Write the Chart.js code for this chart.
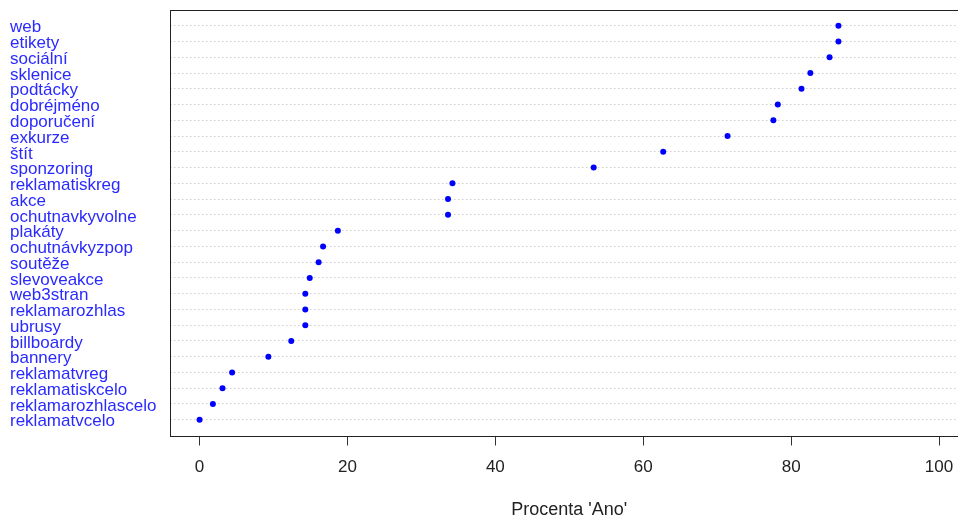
<!DOCTYPE html>
<html>
<head>
<meta charset="utf-8">
<script src="https://cdn.jsdelivr.net/npm/chart.js@4"></script>
<style>
  html, body { margin: 0; padding: 0; overflow: hidden; background: #fff; }
  #wrap { width: 980px; height: 519px; }
</style>
</head>
<body>
<div id="wrap"><canvas id="c" width="980" height="519"></canvas></div>
<script>
const categories = ["web","etikety","sociální","sklenice","podtácky","dobréjméno","doporučení","exkurze","štít","sponzoring","reklamatiskreg","akce","ochutnavkyvolne","plakáty","ochutnávkyzpop","soutěže","slevoveakce","web3stran","reklamarozhlas","ubrusy","billboardy","bannery","reklamatvreg","reklamatiskcelo","reklamarozhlascelo","reklamatvcelo"];
const percentYes = [86.4,86.4,85.2,82.6,81.4,78.2,77.6,71.4,62.7,53.3,34.2,33.6,33.6,18.7,16.7,16.1,14.9,14.3,14.3,14.3,12.4,9.3,4.4,3.1,1.8,0];
const xTicks = [0,20,40,60,80,100];
const xTitle = "Procenta 'Ano'";

const points = categories.map((c, i) => ({ x: percentYes[i], y: i + 1 }));
const FONT = "'Liberation Sans', Arial, sans-serif";

const boxPlugin = {
  id: 'box',
  afterDraw(chart) {
    const a = chart.chartArea, ctx = chart.ctx;
    ctx.save();
    ctx.strokeStyle = '#222';
    ctx.lineWidth = 1;
    ctx.strokeRect(Math.round(a.left) + 0.5, Math.round(a.top) + 0.5,
                   Math.round(a.right - a.left), Math.round(a.bottom - a.top));
    ctx.restore();
  }
};

new Chart(document.getElementById('c'), {
  type: 'scatter',
  data: {
    datasets: [{
      data: points,
      backgroundColor: '#0000ff',
      borderColor: '#0000ff',
      pointRadius: 3,
      pointBorderWidth: 0
    }]
  },
  options: {
    responsive: false,
    animation: false,
    events: [],
    layout: { padding: { left: 10, top: 10, right: 11.4, bottom: 0 } },
    plugins: { legend: { display: false }, tooltip: { enabled: false } },
    scales: {
      x: {
        type: 'linear',
        min: -4, max: 104,
        afterBuildTicks(s) { s.ticks = xTicks.map(v => ({ value: v })); },
        afterFit(s) { s.height = 83.5; },
        grid: { drawOnChartArea: false, drawTicks: true, tickLength: 10, tickColor: '#333', tickWidth: 1 },
        border: { display: false },
        ticks: { padding: 12, color: '#222', autoSkip: false, font: { family: FONT, size: 17 }, maxRotation: 0 },
        title: { display: true, text: xTitle, color: '#222', font: { family: FONT, size: 18, lineHeight: 1.0 }, padding: { top: 0, bottom: 0 } }
      },
      y: {
        type: 'linear',
        reverse: true,
        min: 0, max: 27,
        afterBuildTicks(s) { s.ticks = categories.map((c, i) => ({ value: i + 1 })); },
        afterFit(s) { s.width = 160; },
        grid: { drawTicks: false, color: '#cfcfcf', lineWidth: 1 },
        border: { display: false, dash: [1.5, 2.5] },
        ticks: {
          crossAlign: 'far',
          autoSkip: false,
          padding: 0,
          labelOffset: 2,
          color: '#2a2aff',
          font: { family: FONT, size: 17, lineHeight: 1.0 },
          callback: (v) => categories[v - 1]
        }
      }
    }
  },
  plugins: [boxPlugin]
});
</script>
</body>
</html>
